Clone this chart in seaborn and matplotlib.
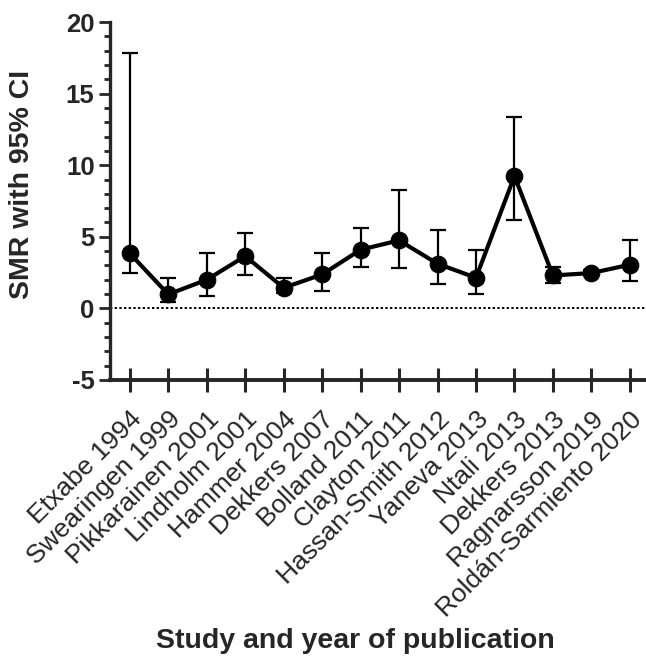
import numpy as np
import pandas as pd
import seaborn as sns
import matplotlib.pyplot as plt

# SMR per study with 95% CI
studies = ["Etxabe 1994", "Swearingen 1999", "Pikkarainen 2001", "Lindholm 2001",
           "Hammer 2004", "Dekkers 2007", "Bolland 2011", "Clayton 2011",
           "Hassan-Smith 2012", "Yaneva 2013", "Ntali 2013", "Dekkers 2013",
           "Ragnarsson 2019", "Roldán-Sarmiento 2020"]
smr = [3.84, 0.98, 2.0, 3.65, 1.44, 2.37, 4.1, 4.75, 3.12, 2.14, 9.24, 2.3, 2.47, 3.05]
ci_low = [2.47, 0.44, 0.89, 2.33, 1.1, 1.21, 2.89, 2.79, 1.68, 1.03, 6.19, 1.77, 2.3, 1.89]
ci_high = [17.86, 2.14, 3.89, 5.28, 2.09, 3.86, 5.63, 8.29, 5.45, 4.1, 13.36, 2.89, 2.65, 4.8]

df = pd.DataFrame({"pos": np.arange(len(studies)), "study": studies, "smr": smr,
                   "lo": ci_low, "hi": ci_high})

sns.set_style("ticks")
plt.rcParams['font.family'] = ['Liberation Sans', 'DejaVu Sans']
plt.rcParams['axes.unicode_minus'] = False

fig = plt.figure(figsize=(6.46, 6.58), dpi=100)
ax = fig.add_axes([0.170, 0.4225, 0.83, 0.544])

# zero reference line
ax.axhline(0, color="black", linestyle=(0, (1.2, 1.2)), linewidth=1.4, zorder=1)

# confidence intervals
ax.errorbar(df["pos"], df["smr"],
            yerr=[df["smr"] - df["lo"], df["hi"] - df["smr"]],
            fmt="none", ecolor="black", elinewidth=1.6, capsize=5.8, capthick=1.6, zorder=2)

# SMR line with markers
sns.lineplot(data=df, x="pos", y="smr", color="black", linewidth=3.0,
             marker="o", markersize=12, markeredgecolor="black", ax=ax, zorder=3)

ax.set_ylim(-5, 20)
ax.set_xlim(-0.52, 13.42)
ax.set_yticks([-5, 0, 5, 10, 15, 20])
ax.set_yticks(np.arange(-5, 21, 1), minor=True)
ax.set_xticks(df["pos"])
ax.set_xticklabels(studies, rotation=45, ha="right", rotation_mode="anchor", fontsize=19)
for lbl in ax.get_yticklabels():
    lbl.set_fontweight("bold")
    lbl.set_fontsize(18.5)

ax.tick_params(axis="y", which="major", length=8, width=2, direction="out", pad=3)
ax.tick_params(axis="y", which="minor", length=4, width=2, direction="out")
ax.tick_params(axis="x", which="major", length=17, width=2.2, direction="inout", pad=11)

sns.despine(ax=ax)
ax.spines["left"].set_linewidth(2.4)
ax.spines["bottom"].set_linewidth(2.8)

ax.set_xlabel("")
ax.set_ylabel("SMR with 95% CI", fontsize=20.5, fontweight="bold")
ax.yaxis.set_label_coords(-0.14, 0.545)
fig.text(0.55, 0.026, "Study and year of publication", ha="center", va="center",
         fontsize=20.5, fontweight="bold")

fig.savefig("out.png", dpi=100)
